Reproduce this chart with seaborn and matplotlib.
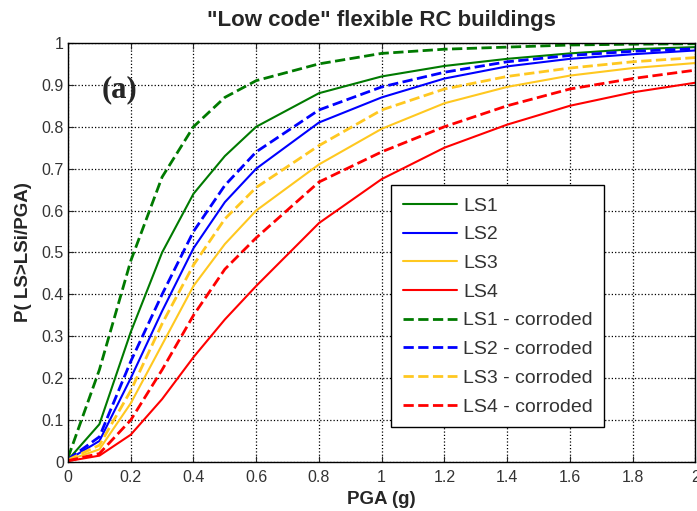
import matplotlib
matplotlib.use('Agg')
import matplotlib.pyplot as plt
import seaborn as sns

# PGA sample points (g)
pga = [0, 0.1, 0.2, 0.3, 0.4, 0.5, 0.6, 0.8, 1.0, 1.2, 1.4, 1.6, 1.8, 2.0]

# fragility curves
ls1 = [0.005, 0.09, 0.31, 0.50, 0.64, 0.73, 0.80, 0.88, 0.92, 0.945, 0.962, 0.975, 0.985, 0.99]
ls2 = [0.005, 0.05, 0.20, 0.36, 0.51, 0.62, 0.70, 0.81, 0.87, 0.915, 0.944, 0.962, 0.973, 0.982]
ls3 = [0.004, 0.03, 0.14, 0.28, 0.42, 0.52, 0.60, 0.71, 0.795, 0.856, 0.895, 0.922, 0.94, 0.952]
ls4 = [0.002, 0.015, 0.065, 0.15, 0.25, 0.34, 0.42, 0.57, 0.675, 0.75, 0.805, 0.85, 0.882, 0.905]
ls1_c = [0.01, 0.22, 0.48, 0.68, 0.80, 0.87, 0.91, 0.95, 0.975, 0.985, 0.99, 0.995, 0.997, 0.998]
ls2_c = [0.006, 0.06, 0.24, 0.40, 0.55, 0.66, 0.74, 0.84, 0.895, 0.93, 0.955, 0.97, 0.98, 0.986]
ls3_c = [0.005, 0.04, 0.17, 0.33, 0.47, 0.58, 0.655, 0.755, 0.84, 0.89, 0.92, 0.94, 0.955, 0.965]
ls4_c = [0.003, 0.02, 0.10, 0.22, 0.35, 0.46, 0.535, 0.668, 0.74, 0.80, 0.85, 0.89, 0.915, 0.935]

labels = ['LS1', 'LS2', 'LS3', 'LS4',
          'LS1 - corroded', 'LS2 - corroded', 'LS3 - corroded', 'LS4 - corroded']
series = [ls1, ls2, ls3, ls4, ls1_c, ls2_c, ls3_c, ls4_c]
colors = ['#007a00', '#0000ff', '#ffc820', '#ff0000'] * 2

sns.set_style('white')
plt.rcParams['font.family'] = ['Liberation Sans', 'DejaVu Sans']

fig = plt.figure(figsize=(6.97, 5.11), dpi=100)
ax = fig.add_axes([0.0976, 0.096, 0.9, 0.82])

for i, (lab, vals) in enumerate(zip(labels, series)):
    dashed = i >= 4
    sns.lineplot(x=pga, y=vals, ax=ax, color=colors[i], label=lab,
                 linestyle='--' if dashed else '-',
                 linewidth=2.0 if dashed else 1.5,
                 dashes=False if not dashed else (4, 2.5))

ax.set_xlim(0, 2)
ax.set_ylim(0, 1)
ax.set_xticks([0, 0.2, 0.4, 0.6, 0.8, 1, 1.2, 1.4, 1.6, 1.8, 2])
ax.set_xticklabels(['0', '0.2', '0.4', '0.6', '0.8', '1', '1.2', '1.4', '1.6', '1.8', '2'])
ax.set_yticks([i / 10 for i in range(11)])
ax.set_yticklabels(['0'] + ['0.%d' % i for i in range(1, 10)] + ['1'])
ax.tick_params(labelsize=11.5, labelcolor='#333333', direction='in', length=4,
               top=True, right=True, bottom=True, left=True, pad=3)
ax.tick_params(axis='x', pad=6)
ax.grid(True, linestyle=':', color='black', linewidth=0.9)
for s in ax.spines.values():
    s.set_color('black')
    s.set_linewidth(1.0)

ax.set_xlabel('PGA (g)', fontsize=13.5, fontweight='bold', labelpad=4)
ax.set_ylabel('P( LS>LSi/PGA)', fontsize=13.5, fontweight='bold', labelpad=7)
ax.set_title('"Low code" flexible RC buildings', fontsize=16, fontweight='bold', pad=12)

ax.text(0.054, 0.888, '(a)', transform=ax.transAxes, fontsize=22, fontweight='bold',
        family=['Liberation Serif', 'DejaVu Serif'], va='center')

leg = ax.legend(loc='upper left', bbox_to_anchor=(0.515, 0.66), fontsize=14,
                frameon=True, fancybox=False, edgecolor='black', framealpha=1,
                handlelength=2.8, handletextpad=0.3, labelspacing=0.57,
                borderpad=0.6, borderaxespad=0)
leg.get_frame().set_linewidth(1.0)
for t in leg.get_texts():
    t.set_color('#333333')

fig.savefig('out.png', dpi=100)
